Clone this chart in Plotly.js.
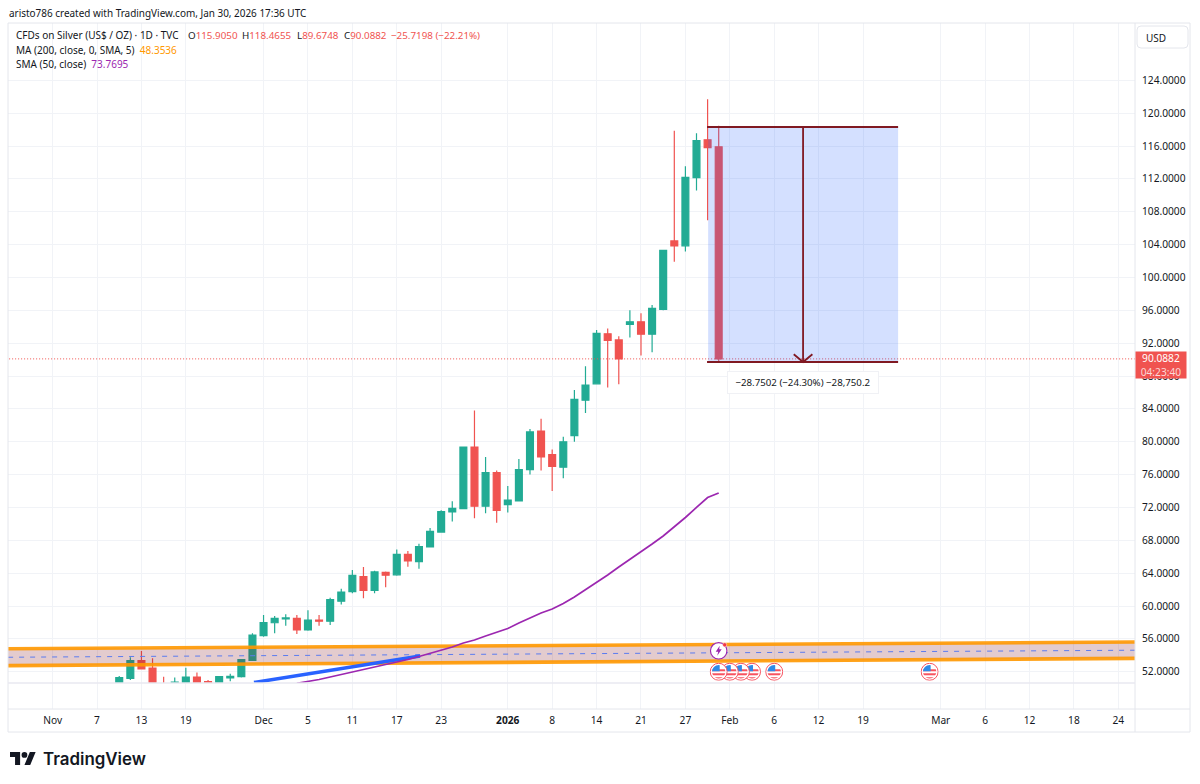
<!DOCTYPE html>
<html><head><meta charset="utf-8">
<script src="https://cdn.plot.ly/plotly-3.0.1.min.js"></script>
<style>html,body{margin:0;padding:0;background:#fff}#chart{width:1200px;height:784px}</style>
</head><body><div id="chart"></div>
<script>
// ---------- data ----------
const firstBar = 6;
const opens  = [50.4,51.2,53.35,52.45,50.3,50.3,50.0,51.35,50.8,50.2,51.25,51.4,53.4,56.4,57.97,58.45,58.5,57.1,58.3,58.15,60.6,61.75,63.6,61.9,64.1,63.8,66.3,65.4,67.2,69,71.45,71.85,79.35,72.15,76.25,72.35,72.8,76.6,81.3,78.45,76.9,80.75,85.05,87.05,93.15,92.4,94.3,94.6,93.1,96.1,104.45,103.85,112.15,116.75,115.905];
const highs  = [51.5,53.76,54.53,53.65,51.4,51.3,52.5,51.9,51.0,51.5,51.76,53.5,56.7,58.9,58.8,59,58.9,59.5,58.9,61,62.1,64.4,64.75,64.3,64.2,66.9,66.7,67.57,69.5,71.65,72.75,79.4,83.8,78.15,76.5,74.6,77.9,81.55,82.8,79.05,80.6,86.3,89.2,93.6,93.8,92.85,96,95.65,96.65,103.35,117.85,113.55,117.55,121.7,118.4655];
const lows   = [50.2,51.0,52.3,49.8,49.5,50.0,49.8,49.7,50.0,50.0,50.85,51.3,53.3,56.27,56.7,57.6,56.6,57,57.6,57.7,60.2,61.55,60.95,61.55,62.3,63.7,64.8,64.55,67.15,68.95,70.3,71.8,70.7,71.3,70.15,71.4,72.8,76,76.5,74,75.55,80,83.5,87,86.6,87,92.7,90.5,90.9,96,101.9,103.15,110.6,106.95,89.6748];
const closes = [51.3,53.35,52.34,50.0,49.9,50.75,51.35,50.0,50.3,51.4,51.45,53.47,56.47,58.0,58.5,58.55,57.1,58.3,58.15,60.8,61.7,63.75,61.9,64.15,63.75,66.3,65.5,67.23,69.1,71.5,71.9,79.35,72.15,76.25,71.65,72.9,76.6,81.2,78.15,77,80,85.15,86.9,93.2,92.35,90.1,94.6,93.1,96.25,103.3,103.85,112.2,116.65,115.8,90.0882];

const smaFirstBar = 22;
const sma50 = [50.6,50.82,51.06,51.36,51.67,51.97,52.28,52.58,52.89,53.13,53.50,53.86,54.23,54.59,55.02,55.50,55.87,56.36,56.78,57.27,57.94,58.55,59.16,59.65,60.31,61.10,61.96,62.87,63.78,64.76,65.67,66.58,67.55,68.53,69.62,70.78,72.0,73.21,73.77];

const blueLineX = [18.14, 33.1];
const blueLineY = [50.7, 53.92];

const spanX = [-5, 98];
const bandTop = [54.79, 55.63];
const bandMid = [53.76, 54.63];
const bandBottom = [52.74, 53.64];

const measureX = [59.05, 76.16];
const measureArrowX = 67.6;
const measureTop = 118.32;
const measureBottom = 89.71;
const lastPrice = 90.0882;

const priceTicks = [52,56,60,64,68,72,76,80,84,88,92,96,100,104,108,112,116,120,124];
const timeTickBars = [0,4,8,12,19,23,27,31,35,41,45,49,53,57,61,65,69,73,80,84,88,92,96];
const timeTickText = ['Nov','7','13','19','Dec','5','11','17','23','<b>2026</b>','8','14','21','27','Feb','6','12','19','Mar','6','12','18','24'];

const usEventBars = [79,65,63,62,61,60];
const usEventPrice = 52;
const alertBar = 60;
const alertPrice = 54.55;

const headerText = 'aristo786 created with TradingView.com, Jan 30, 2026 17:36 UTC';
const legendLine1 = 'CFDs on Silver (US$ / OZ) · 1D · TVC';
const ohlcLabels = ['O115.9050','H118.4655','L89.6748','C90.0882'];
const changeText = '−25.7198 (−22.21%)';
const legendMA = ['MA (200, close, 0, SMA, 5)','48.3536'];
const legendSMA = ['SMA (50, close)','73.7695'];
const measureLabel = '−28.7502 (−24.30%) −28,750.2';

// ---------- layout helpers ----------
const W=1200,H=784,L=8,R=1135,T=23,B=709,SPLIT=683;
const px = x => (x-L)/(R-L);
const py = y => (B-y)/(B-T);
const up='#22ab94', down='#f05350', ink='#131722', grid='#f1f3f7', frame='#e4e6ec';
const font='"Noto Sans", sans-serif';
const measureColor='#801922';

const txt=(x,y,text,o={})=>Object.assign({xref:'paper',yref:'paper',x:px(x),y:py(y),text,showarrow:false,xanchor:'left',yanchor:'middle',font:{family:font,size:10,color:ink},borderpad:0},o);
const lineShape=(x0,y0,x1,y1,c=frame,w=1)=>({type:'line',xref:'paper',yref:'paper',x0:px(x0),y0:py(y0),x1:px(x1),y1:py(y1),line:{color:c,width:w},layer:'above'});
const roundRect=(x0,y0,x1,y1,r)=>{
 const X=v=>px(v),Y=v=>py(v);
 return {type:'path',xref:'paper',yref:'paper',layer:'above',line:{color:frame,width:1},fillcolor:'#fff',
 path:`M${X(x0+r)},${Y(y0)}L${X(x1-r)},${Y(y0)}Q${X(x1)},${Y(y0)} ${X(x1)},${Y(y0+r)}L${X(x1)},${Y(y1-r)}Q${X(x1)},${Y(y1)} ${X(x1-r)},${Y(y1)}L${X(x0+r)},${Y(y1)}Q${X(x0)},${Y(y1)} ${X(x0)},${Y(y1-r)}L${X(x0)},${Y(y0+r)}Q${X(x0)},${Y(y0)} ${X(x0+r)},${Y(y0)}Z`};
};
const uri=s=>'data:image/svg+xml;charset=utf-8,'+encodeURIComponent(s);
const flagSvg=`<svg xmlns="http://www.w3.org/2000/svg" viewBox="0 0 36 36" width="108" height="108"><defs><clipPath id="c"><circle cx="18" cy="18" r="13.5"/></clipPath></defs><circle cx="18" cy="18" r="17" fill="#fff" stroke="#f7525f" stroke-width="2"/><g clip-path="url(#c)"><rect width="36" height="36" fill="#fff"/><rect y="13" width="36" height="4" fill="#f7525f"/><rect y="21" width="36" height="4" fill="#f7525f"/><rect y="29" width="36" height="4" fill="#f7525f"/><rect y="4" width="20" height="13" fill="#2f8ae8"/></g></svg>`;
const alertSvg=`<svg xmlns="http://www.w3.org/2000/svg" viewBox="0 0 36 36" width="108" height="108"><circle cx="18" cy="18" r="16.5" fill="#fff" stroke="#9c27b0" stroke-width="2.4"/><path d="M20 8 L12 20 H17 L15 28 L24 15 H19 Z" fill="#9c27b0"/><circle cx="30" cy="6" r="4.2" fill="#f23645" stroke="#fff" stroke-width="1"/></svg>`;
const logoSvg=`<svg xmlns="http://www.w3.org/2000/svg" viewBox="0 4 36 18" width="156" height="78"><path d="M14 22H7V11H0V4h14v18zM28 22h-8l7.5-18h8L28 22z" fill="#131722"/><circle cx="20" cy="8" r="4" fill="#131722"/></svg>`;

// ---------- traces ----------
const barX = opens.map((_,i)=>firstBar+i);
const smaX = sma50.map((_,i)=>smaFirstBar+i);
const armDx=0.84, armDy=0.95;
const traces=[
 {type:'scatter',x:[0],y:[0],xaxis:'x',yaxis:'y2',mode:'markers',marker:{opacity:0},hoverinfo:'skip',showlegend:false},
 {type:'candlestick',x:barX,open:opens,high:highs,low:lows,close:closes,
  increasing:{line:{color:up,width:1.2},fillcolor:up},decreasing:{line:{color:down,width:1.2},fillcolor:down},
  whiskerwidth:0,hoverinfo:'skip',showlegend:false},
 {type:'scatter',mode:'lines',x:spanX,y:bandBottom,line:{color:'rgba(255,152,0,0.9)',width:3.6},hoverinfo:'skip',showlegend:false},
 {type:'scatter',mode:'lines',x:spanX,y:bandTop,line:{color:'rgba(255,152,0,0.9)',width:3.6},fill:'tonexty',fillcolor:'rgba(128,20,34,0.22)',hoverinfo:'skip',showlegend:false},
 {type:'scatter',mode:'lines',x:spanX,y:bandMid,line:{color:'#5b7cf0',width:1,dash:'5px,6px'},hoverinfo:'skip',showlegend:false},
 {type:'scatter',mode:'lines',x:blueLineX,y:blueLineY,line:{color:'#2962ff',width:3.6},hoverinfo:'skip',showlegend:false},
 {type:'scatter',mode:'lines',x:smaX,y:sma50,line:{color:'#9c27b0',width:1.7,shape:'linear'},hoverinfo:'skip',showlegend:false},
 {type:'scatter',mode:'lines',x:spanX,y:[lastPrice,lastPrice],line:{color:down,width:1,dash:'1px,2px'},hoverinfo:'skip',showlegend:false},
 {type:'scatter',mode:'lines',x:[measureX[0],measureX[1],measureX[1],measureX[0],measureX[0]],y:[measureTop,measureTop,measureBottom,measureBottom,measureTop],
  line:{width:0},fill:'toself',fillcolor:'rgba(41,98,255,0.2)',hoverinfo:'skip',showlegend:false},
 {type:'scatter',mode:'lines',x:[measureX[0]-0.1,measureX[1],null,measureX[0]-0.1,measureX[1]],y:[measureTop,measureTop,null,measureBottom,measureBottom],
  line:{color:measureColor,width:2},hoverinfo:'skip',showlegend:false},
 {type:'scatter',mode:'lines',x:[measureArrowX,measureArrowX,null,measureArrowX-armDx,measureArrowX,measureArrowX+armDx],y:[measureTop,measureBottom,null,measureBottom+armDy,measureBottom,measureBottom+armDy],
  line:{color:measureColor,width:1.8},hoverinfo:'skip',showlegend:false},
];

const c=(s,col)=>`<span style="color:${col}">${s}</span>`;
const ohlcAt=[187,241,296,343];

const annotations=[
 txt(8,13,headerText,{font:{family:font,size:9.95,color:ink}}),
 txt(15,35,legendLine1),
 ...ohlcLabels.map((s,i)=>txt(ohlcAt[i],35,s[0]+c(s.slice(1),down),{font:{family:font,size:9.8,color:ink}})),
 txt(390,35,c(changeText,down),{font:{family:font,size:9.8,color:ink}}),
 txt(15,50,legendMA[0]+'  '+c(legendMA[1],'#ff9800')),
 txt(15,64,legendSMA[0]+'  '+c(legendSMA[1],'#9c27b0')),
 txt(1145,38,'USD'),
 txt(1135,365,`90.0882<br>${c('04:23:40','rgba(255,255,255,0.78)')}`,{bgcolor:'#f05350',font:{family:font,size:10.2,color:'#fff'},width:50,height:26,align:'center'}),
 {xref:'x',yref:'y',x:measureArrowX,y:124-(382-80.3)/8.215,text:measureLabel,showarrow:false,xanchor:'center',yanchor:'middle',
  bgcolor:'#fff',bordercolor:'#f0f1f5',borderwidth:1,borderpad:0,width:150,height:21,font:{family:font,size:9.7,color:ink}},
 txt(42,758.5,'TradingView',{font:{family:'Inter, sans-serif',size:16.9,color:ink,weight:600}}),
];

const flagW=18/11.1, flagH=18/8.215;
const images=[
 ...usEventBars.map(b=>({source:uri(flagSvg),xref:'x',yref:'y',x:b,y:usEventPrice,sizex:flagW,sizey:flagH,xanchor:'center',yanchor:'middle',layer:'above',sizing:'stretch'})),
 {source:uri(alertSvg),xref:'x',yref:'y',x:alertBar,y:alertPrice,sizex:flagW,sizey:flagH,xanchor:'center',yanchor:'middle',layer:'above',sizing:'stretch'},
 {source:uri(logoSvg),xref:'paper',yref:'paper',x:px(10),y:py(752),sizex:26/(R-L),sizey:13/(B-T),xanchor:'left',yanchor:'top',layer:'above',sizing:'stretch'},
];

const shapes=[
 lineShape(L,T,1190,T),lineShape(L,T,L,732),lineShape(L,732,1190,732),lineShape(1190,T,1190,732),
 lineShape(R,T,R,732),lineShape(L,B,1190,B),lineShape(L,SPLIT,R,SPLIT,'#e8e9f0',1.5),
 roundRect(1137,26,1188,48,4),
];

const layout={
 width:W,height:H,margin:{l:L,r:W-R,t:T,b:H-B,pad:0},paper_bgcolor:'#fff',plot_bgcolor:'#fff',showlegend:false,
 boxgap:0.38,boxgroupgap:0,hovermode:false,
 font:{family:font,color:ink,size:10.2},
 xaxis:{anchor:'y2',range:[-4.02,97.5],tickmode:'array',tickvals:timeTickBars,ticktext:timeTickText,showgrid:true,gridcolor:grid,gridwidth:1,zeroline:false,
  showline:false,ticks:'',tickangle:0,tickfont:{family:font,size:10.2,color:ink},rangeslider:{visible:false},ticklabelstandoff:4},
 yaxis:{domain:[py(SPLIT),1],anchor:'x',side:'right',range:[124-(SPLIT-80.3)/8.215,124+(80.3-T)/8.215],tickmode:'array',tickvals:priceTicks,ticktext:priceTicks.map(v=>v.toFixed(4)),
  showgrid:true,gridcolor:grid,gridwidth:1,zeroline:false,showline:false,ticks:'',tickfont:{family:font,size:10.2,color:ink},ticklabelstandoff:6},
 yaxis2:{domain:[0,py(SPLIT)],anchor:'x',range:[0,1],showgrid:false,zeroline:false,showticklabels:false,showline:false,ticks:''},
 shapes,annotations,images
};
Plotly.newPlot('chart',traces,layout,{staticPlot:true,displayModeBar:false});
</script></body></html>
